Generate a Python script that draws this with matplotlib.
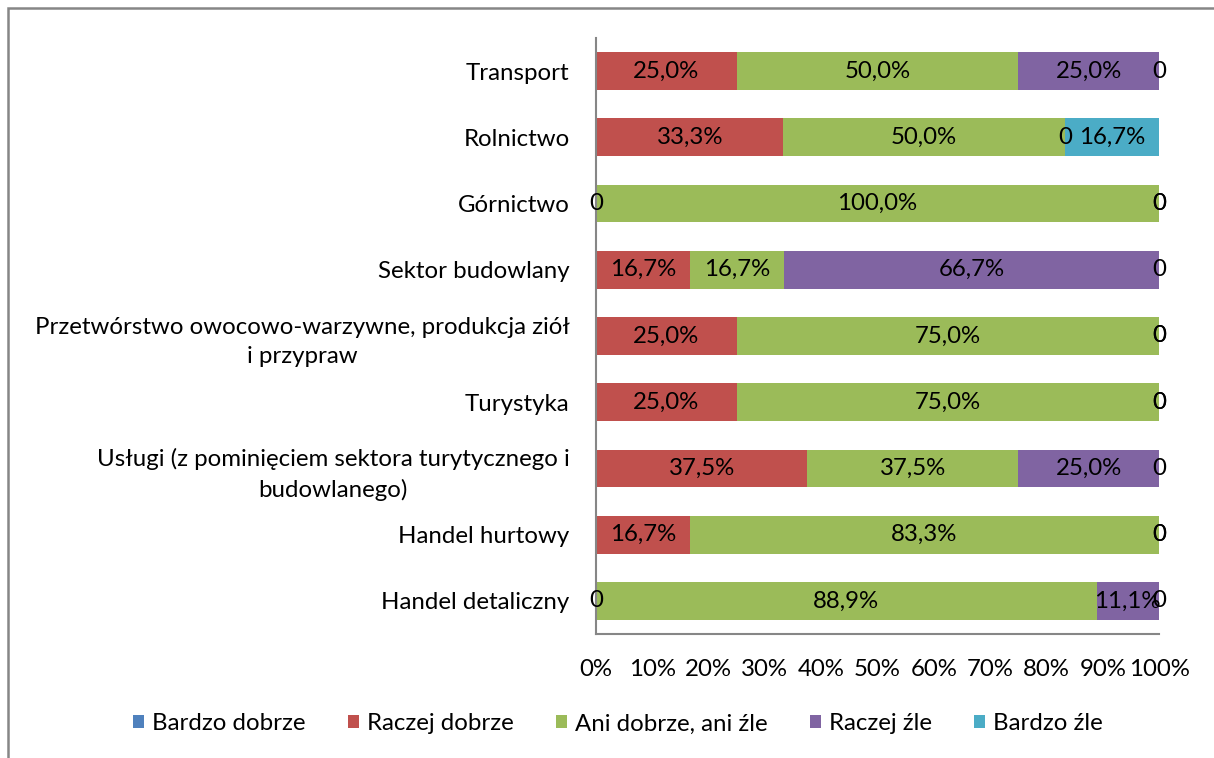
import numpy as np
import matplotlib
matplotlib.use("Agg")
import matplotlib.pyplot as plt
from matplotlib.patches import Rectangle

plt.rcParams['font.family'] = ['Lato', 'DejaVu Sans']

categories = [
    "Transport",
    "Rolnictwo",
    "Górnictwo",
    "Sektor budowlany",
    "Przetwórstwo owocowo-warzywne, produkcja ziół\ni przypraw",
    "Turystyka",
    "Usługi (z pominięciem sektora turytycznego i\nbudowlanego)",
    "Handel hurtowy",
    "Handel detaliczny",
]
series_names = ["Bardzo dobrze", "Raczej dobrze", "Ani dobrze, ani źle", "Raczej źle", "Bardzo źle"]
nan = np.nan
bardzo_dobrze = [nan, nan, nan, nan, nan, nan, nan, nan, nan]
raczej_dobrze = [25.0, 33.3, 0.0, 16.7, 25.0, 25.0, 37.5, 16.7, 0.0]
ani = [50.0, 50.0, 100.0, 16.7, 75.0, 75.0, 37.5, 83.3, 88.9]
raczej_zle = [25.0, 0.0, 0.0, 66.7, 0.0, 0.0, 25.0, 0.0, 11.1]
bardzo_zle = [0.0, 16.7, 0.0, 0.0, 0.0, 0.0, 0.0, 0.0, 0.0]
x_ticks = [0, 10, 20, 30, 40, 50, 60, 70, 80, 90, 100]
colors = ["#4F81BD", "#C0504D", "#9BBB59", "#8064A2", "#4BACC6"]

W, H = 1214, 758
fig = plt.figure(figsize=(W / 100, H / 100), dpi=100)
fig.patches.append(Rectangle((8 / W, -0.1), 1.2, (H - 8) / H + 0.1, transform=fig.transFigure,
                             fill=False, edgecolor="#868686", linewidth=1.8))
ax = fig.add_axes([596 / W, 1 - 634 / H, (1159 - 596) / W, (634 - 38) / H])

data = [bardzo_dobrze, raczej_dobrze, ani, raczej_zle, bardzo_zle]
y = np.arange(len(categories))
left = np.zeros(len(categories))
fs = 17.3
for name, vals, col in zip(series_names, data, colors):
    v = np.array(vals, dtype=float)
    w = np.nan_to_num(v)
    ax.barh(y, w, left=left, height=0.57, color=col, label=name, linewidth=0)
    for i in range(len(categories)):
        if np.isnan(v[i]):
            continue
        txt = "0" if v[i] == 0 else f"{v[i]:.1f}%".replace(".", ",")
        ax.text(left[i] + w[i] / 2, y[i], txt, ha="center", va="center", fontsize=fs, color="black")
    left += w

ax.set_xlim(0, 100)
ax.set_ylim(len(categories) - 0.5, -0.5)
ax.set_yticks(y)
ax.set_yticklabels(categories, fontsize=fs, multialignment="center", linespacing=1.45)
ax.set_xticks(x_ticks)
ax.set_xticklabels([f"{t}%" for t in x_ticks], fontsize=fs)
ax.tick_params(axis="both", length=0)
ax.tick_params(axis="y", pad=19)
ax.tick_params(axis="x", pad=18)
for s in ["top", "right"]:
    ax.spines[s].set_visible(False)
for s in ["left", "bottom"]:
    ax.spines[s].set_color("#868686")
    ax.spines[s].set_linewidth(1.5)

fig.legend(loc="center", bbox_to_anchor=(618 / W, 1 - 724 / H), ncol=5, frameon=False,
           fontsize=fs, handlelength=0.45, handleheight=0.45, handletextpad=0.35, columnspacing=1.75)

fig.savefig("out.png", dpi=100)
